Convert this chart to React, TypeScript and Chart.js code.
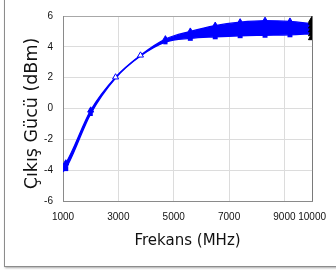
import React, { useEffect, useRef } from 'react';
import { Chart, registerables } from 'chart.js';

Chart.register(...registerables);

// ---- data ----
const freqs = [1000, 1100, 2000, 2900, 3800, 4700, 5600, 6500, 7400, 8300, 9200, 10000];
const upperValues = [-3.75, -3.55, -0.12, 2.03, 3.45, 4.5, 5.0, 5.38, 5.6, 5.7, 5.65, 5.5];
const lowerValues = [-4.1, -3.9, -0.35, 1.97, 3.4, 4.3, 4.55, 4.65, 4.72, 4.75, 4.78, 4.85];
const endFreq = 10000;
const endValues = [4.6, 4.85, 5.1, 5.35, 5.6, 5.72];
const xTicks = [1000, 3000, 5000, 7000, 9000, 10000];
const yMin = -6;
const yMax = 6;
const yStep = 2;
const xTitle = 'Frekans (MHz)';
const yTitle = 'Çıkış Gücü (dBm)';

// ---- styles ----
const BLUE = '#0000ff';
const upperRadius = [0, 3.5, 3.5, 3.5, 3.5, 3.5, 3.5, 3.5, 3.5, 3.5, 3.5, 0];
const upperFill = [BLUE, BLUE, BLUE, '#ffffff', '#ffffff', BLUE, BLUE, BLUE, BLUE, BLUE, BLUE, BLUE];
const lowerRadius = [0, 3.5, 3, 0, 0, 3, 3.5, 3.5, 3.5, 3.5, 3.5, 0];
const tickFont = { family: '"Liberation Sans", Arial, sans-serif', size: 10 };

const yTitlePlugin = {
  id: 'yTitlePlugin',
  afterDraw(chart: any) {
    const ctx = chart.ctx;
    ctx.save();
    ctx.translate(32, 113.5);
    ctx.rotate(-Math.PI / 2);
    ctx.textAlign = 'center';
    ctx.textBaseline = 'middle';
    ctx.fillStyle = '#111';
    ctx.font = '17.5px "DejaVu Sans", sans-serif';
    ctx.fillText(yTitle, 0, 0);
    ctx.restore();
  },
};

export default function App() {
  const ref = useRef<HTMLCanvasElement | null>(null);

  useEffect(() => {
    if (!ref.current) return;
    const chart = new Chart(ref.current, {
      type: 'line',
      data: {
        datasets: [
          {
            label: 'end',
            data: endValues.map((v) => ({ x: endFreq, y: v })),
            showLine: false,
            pointStyle: 'triangle',
            pointRadius: 4.2,
            pointBackgroundColor: '#000',
            pointBorderColor: '#000',
            pointBorderWidth: 1,
            borderColor: '#000',
          },
          {
            label: 'upper',
            data: freqs.map((f, i) => ({ x: f, y: upperValues[i] })),
            borderColor: BLUE,
            borderWidth: 1.3,
            cubicInterpolationMode: 'monotone',
            pointStyle: 'triangle',
            pointRadius: upperRadius,
            pointBackgroundColor: upperFill,
            pointBorderColor: BLUE,
            pointBorderWidth: 1,
            fill: false,
          },
          {
            label: 'lower',
            data: freqs.map((f, i) => ({ x: f, y: lowerValues[i] })),
            borderColor: BLUE,
            borderWidth: 1.3,
            cubicInterpolationMode: 'monotone',
            pointStyle: 'rect',
            pointRadius: lowerRadius,
            pointBackgroundColor: BLUE,
            pointBorderColor: BLUE,
            pointBorderWidth: 0,
            backgroundColor: BLUE,
            fill: '-1',
          },
        ],
      },
      options: {
        responsive: false,
        animation: false,
        layout: { padding: { left: 5, top: 12, right: 23, bottom: 7 } },
        plugins: {
          legend: { display: false },
          tooltip: { enabled: false },
        },
        scales: {
          x: {
            type: 'linear',
            min: xTicks[0],
            max: xTicks[xTicks.length - 1],
            afterBuildTicks: (s: any) => {
              s.ticks = xTicks.map((v) => ({ value: v }));
            },
            afterFit: (s: any) => {
              s.height = 65;
            },
            ticks: {
              autoSkip: false,
              maxRotation: 0,
              padding: 10,
              color: '#111',
              font: tickFont,
              callback: (v: any) => String(v),
            },
            grid: {
              drawTicks: false,
              color: (c: any) => (c.tick && c.tick.value === 10000 ? '#7a7a7a' : '#dcdcdc'),
              lineWidth: 1,
            },
            border: { color: '#8a8a8a', width: 1 },
            title: {
              display: true,
              text: xTitle,
              color: '#111',
              font: { family: '"DejaVu Sans", sans-serif', size: 15 },
              padding: { top: 0, bottom: 16 },
            },
          },
          y: {
            min: yMin,
            max: yMax,
            afterFit: (s: any) => {
              s.width = 58;
            },
            ticks: {
              stepSize: yStep,
              padding: 10,
              color: '#111',
              font: tickFont,
              callback: (v: any) => String(v),
            },
            grid: {
              drawTicks: false,
              color: (c: any) => (c.tick && c.tick.value === yMax ? '#a8a8a8' : '#dcdcdc'),
              lineWidth: 1,
            },
            border: { color: '#8a8a8a', width: 1 },
          },
        },
      },
      plugins: [yTitlePlugin],
    } as any);
    return () => chart.destroy();
  }, []);

  return (
    <div
      style={{
        position: 'fixed',
        left: 0,
        top: 0,
        width: 336,
        height: 273,
        overflow: 'hidden',
        background: '#fff',
      }}
    >
      <div
        style={{
          position: 'absolute',
          left: 4,
          top: -20,
          width: 400,
          height: 287,
          boxSizing: 'border-box',
          border: '1px solid #8c8c8c',
          boxShadow: '1px 1px 2px rgba(0,0,0,0.35)',
        }}
      />
      <canvas
        ref={ref}
        width={336}
        height={273}
        style={{ position: 'absolute', left: 0, top: 0, display: 'block' }}
      />
    </div>
  );
}
